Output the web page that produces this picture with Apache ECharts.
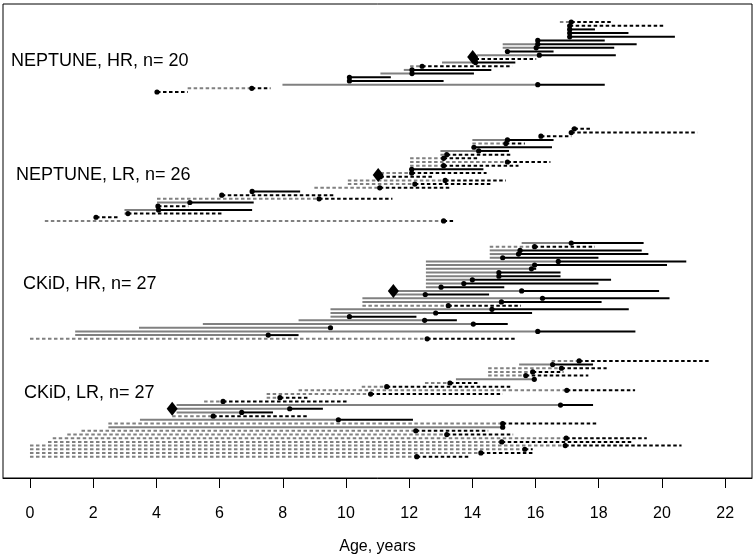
<!DOCTYPE html>
<html><head><meta charset="utf-8">
<script src="https://cdn.jsdelivr.net/npm/echarts@6/dist/echarts.min.js"></script>
<style>html,body{margin:0;padding:0;background:#fff}#c{width:756px;height:560px}</style>
</head><body><div id="c"></div>
<script>
// ---- data (ages in years), rows listed top to bottom within each group ----
const xTicks = [0, 2, 4, 6, 8, 10, 12, 14, 16, 18, 20, 22];
const groupLabels = ['NEPTUNE, HR, n= 20', 'NEPTUNE, LR, n= 26', 'CKiD, HR, n= 27', 'CKiD, LR, n= 27'];

// NEPTUNE, HR
const nhrStart = [16.77, 17.08, 17.08, 17.08, 17.08, 16.07, 14.96, 14.96, 15.11, 14.15, 14.05, 13.04, 12.03, 11.83, 11.09, 10.11, 10.11, 7.99, 4.99, 4.02];
const nhrDot   = [17.13, 17.08, 17.08, 17.08, 17.08, 16.07, 16.07, 16.02, 15.11, 16.12, 14.10, 14.10, 12.41, 12.09, 12.09, 10.11, 10.11, 16.07, 7.02, 4.02];
const nhrEnd   = [18.39, 20.11, 17.88, 18.94, 20.41, 18.19, 19.20, 18.49, 16.57, 18.54, 16.02, 15.36, 15.26, 14.60, 14.05, 11.42, 13.09, 18.19, 7.61, 4.99];
const nhrDash  = [1, 1, 0, 0, 0, 0, 0, 0, 0, 0, 1, 0, 1, 0, 0, 0, 0, 0, 1, 1];

// NEPTUNE, LR
const nlrStart = [17.13, 17.08, 16.17, 14.00, 14.00, 14.05, 12.99, 12.99, 12.03, 12.03, 12.03, 12.03, 11.09, 11.09, 10.06, 10.06, 9.00, 7.03, 6.07, 4.02, 4.02, 4.02, 2.99, 2.99, 2.09, 0.47];
const nlrDot   = [17.23, 17.13, 16.17, 15.11, 15.06, 14.05, 14.20, 13.19, 13.09, 15.11, 13.09, 12.08, 12.08, 11.09, 13.14, 12.18, 11.07, 7.03, 6.07, 9.15, 5.06, 4.05, 4.07, 3.10, 2.09, 13.09];
const nlrEnd   = [17.73, 21.12, 17.13, 16.57, 15.66, 16.52, 15.16, 15.21, 14.15, 16.47, 15.46, 14.35, 14.45, 12.74, 15.06, 14.60, 13.34, 8.55, 9.61, 11.47, 7.08, 5.01, 7.03, 6.07, 2.84, 13.39];
const nlrDash  = [1, 1, 1, 0, 1, 0, 0, 1, 1, 1, 1, 0, 1, 1, 1, 1, 1, 0, 1, 1, 0, 1, 0, 1, 1, 1];

// CKiD, HR
const chrStart = [15.56, 14.55, 14.55, 14.55, 14.55, 12.53, 12.53, 12.53, 12.53, 12.53, 12.53, 12.53, 12.53, 11.52, 11.52, 10.52, 10.52, 10.52, 9.51, 9.51, 9.51, 8.50, 5.47, 3.45, 1.43, 1.43, 0];
const chrDot   = [17.13, 15.97, 15.51, 15.46, 14.96, 16.72, 15.97, 15.87, 14.84, 14.84, 14.00, 13.73, 13.01, 15.56, 12.51, 16.22, 14.92, 13.24, 14.62, 12.84, 10.11, 12.49, 14.03, 9.51, 16.07, 7.54, 12.57];
const chrEnd   = [19.42, 17.88, 19.36, 19.57, 17.99, 20.77, 20.16, 16.02, 16.79, 16.79, 18.39, 17.99, 15.01, 19.91, 14.53, 20.24, 18.09, 15.54, 18.95, 15.89, 12.23, 13.51, 15.12, 9.51, 19.16, 8.50, 15.38];
const chrDash  = [0, 1, 0, 0, 0, 0, 0, 0, 0, 0, 0, 0, 0, 0, 0, 0, 0, 1, 0, 0, 0, 0, 0, 0, 0, 0, 1];

// CKiD, LR
const clrStart = [16.51, 15.48, 14.50, 14.50, 14.50, 13.48, 12.50, 10.50, 8.50, 7.49, 7.49, 5.51, 4.64, 4.64, 4.64, 4.50, 3.48, 2.48, 2.48, 1.63, 1.18, 0.72, 0.57, 0, 0, 0, 0];
const clrDot   = [17.38, 16.54, 16.82, 15.91, 15.69, 15.96, 13.29, 11.29, 16.99, 10.78, 7.91, 6.11, 16.79, 8.22, 6.70, 5.80, 9.76, 14.96, 14.96, 12.21, 13.19, 16.97, 14.93, 16.94, 15.66, 14.27, 12.24];
const clrEnd   = [21.52, 17.82, 18.25, 16.88, 17.67, 15.96, 14.24, 15.24, 19.15, 14.96, 8.86, 10.06, 17.82, 9.27, 7.69, 8.76, 12.12, 17.96, 14.96, 14.50, 15.29, 19.52, 19.05, 20.62, 15.91, 15.92, 13.93];
const clrDash  = [1, 0, 1, 1, 1, 0, 1, 1, 1, 1, 1, 1, 0, 0, 0, 1, 0, 1, 0, 1, 1, 1, 1, 1, 1, 1, 1];

// group medians (diamonds)
const diamondAge = [14.01, 11.02, 11.50, 4.50];

// ---- layout ----
const groupBase = [100, 65, 33, 1];      // y value of the bottom row of each group
const labelPos = [[11, 61], [16, 175], [23, 284.5], [24, 393.5]];
const GREY = '#808080';
const FONT = '"Liberation Sans", Arial, Helvetica, sans-serif';
const DASH = [3.5, 2.5];

const groups = [
  [nhrStart, nhrDot, nhrEnd, nhrDash],
  [nlrStart, nlrDot, nlrEnd, nlrDash],
  [chrStart, chrDot, chrEnd, chrDash],
  [clrStart, clrDot, clrEnd, clrDash]
];

const segData = [];
const diamondData = [];
groups.forEach((g, gi) => {
  const n = g[0].length;
  for (let i = 0; i < n; i++) {
    segData.push([g[0][i], g[1][i], g[2][i], groupBase[gi] + (n - 1 - i), g[3][i]]);
  }
  diamondData.push([diamondAge[gi], groupBase[gi] + (n - 1) / 2]);
});

const chart = echarts.init(document.getElementById('c'), null, {renderer: 'canvas'});
chart.setOption({
  animation: false,
  backgroundColor: '#fff',
  grid: {left: 3, right: 4, top: 4, bottom: 76, show: true, borderColor: '#000', borderWidth: 1, backgroundColor: 'transparent'},
  xAxis: {
    type: 'value', min: -0.854, max: 22.85,
    axisLine: {show: true, onZero: false, lineStyle: {color: '#000', width: 1}},
    axisTick: {show: true, customValues: xTicks, length: 10, inside: false, lineStyle: {color: '#000', width: 1}},
    axisLabel: {show: true, customValues: xTicks, color: '#000', fontSize: 16, fontFamily: FONT, margin: 28},
    splitLine: {show: false},
    name: 'Age, years', nameLocation: 'middle', nameGap: 61,
    nameTextStyle: {color: '#000', fontSize: 16, fontFamily: FONT}
  },
  yAxis: {type: 'value', min: -4.8, max: 123.9, show: false, splitLine: {show: false}},
  series: [
    {
      type: 'custom',
      data: segData,
      renderItem: function (params, api) {
        const y = api.value(3);
        const s = api.coord([api.value(0), y]);
        const d = api.coord([api.value(1), y]);
        const e = api.coord([api.value(2), y]);
        const dashed = api.value(4) === 1;
        const gStyle = {stroke: GREY, lineWidth: 2};
        const bStyle = {stroke: '#000', lineWidth: 2};
        if (dashed) { gStyle.lineDash = DASH; bStyle.lineDash = DASH; }
        return {
          type: 'group',
          children: [
            {type: 'line', shape: {x1: s[0], y1: s[1], x2: d[0], y2: d[1]}, style: gStyle},
            {type: 'line', shape: {x1: d[0], y1: d[1], x2: e[0], y2: e[1]}, style: bStyle},
            {type: 'circle', shape: {cx: d[0], cy: d[1], r: 2.6}, style: {fill: '#000'}}
          ]
        };
      }
    },
    {
      type: 'scatter',
      data: diamondData,
      symbol: 'diamond',
      symbolSize: [11, 14],
      itemStyle: {color: '#000', opacity: 1},
      z: 5
    }
  ],
  graphic: groupLabels.map((t, i) => ({
    type: 'text', x: labelPos[i][0], y: labelPos[i][1], z: 10,
    style: {text: t, fill: '#000', fontSize: 18, fontFamily: FONT, align: 'left', verticalAlign: 'middle'}
  }))
});
</script>
</body></html>
